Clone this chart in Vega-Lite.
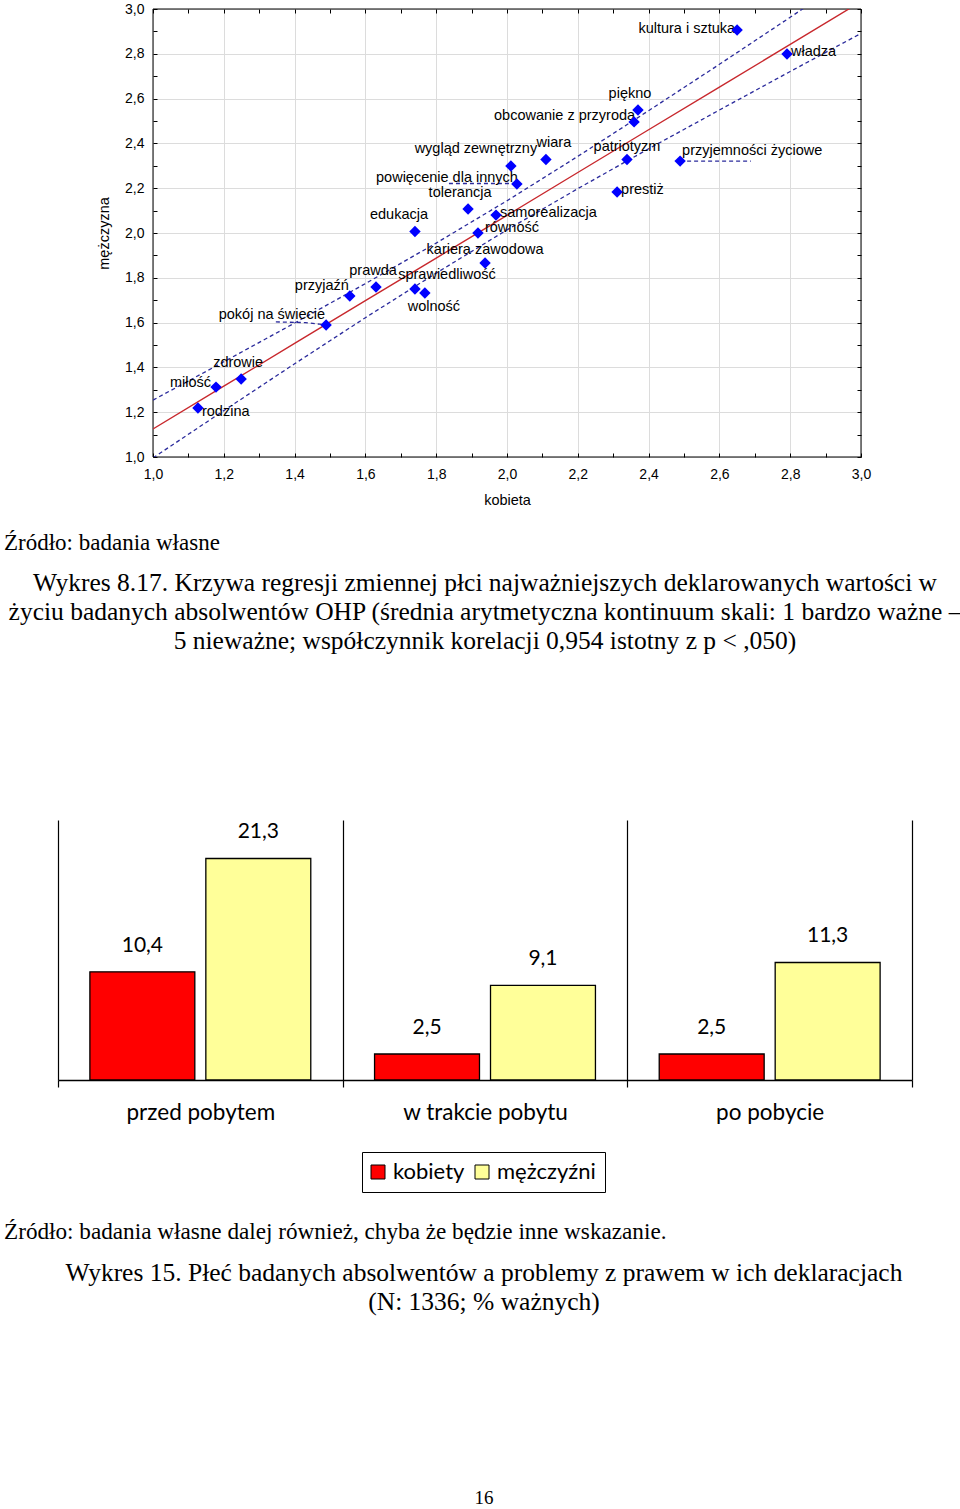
{
  "$schema": "https://vega.github.io/schema/vega-lite/v6.json",
  "padding": {"left": 0, "top": 1, "right": 0, "bottom": 0},
  "background": "white",
  "spacing": 0,
  "config": {
    "view": {"stroke": null},
    "locale": {"number": {"decimal": ",", "thousands": " ", "grouping": [3], "currency": ["", " zł"]}},
    "title": {"color": "#000", "fontWeight": "normal", "font": "Liberation Serif"},
    "text": {"font": "Liberation Sans", "fontSize": 14.5, "color": "#000", "baseline": "middle"}
  },
  "datasets": {
    "points": [
      {"name": "kultura i sztuka", "kobieta": 2.650, "mezczyzna": 2.906},
      {"name": "władza", "kobieta": 2.791, "mezczyzna": 2.799},
      {"name": "piękno", "kobieta": 2.370, "mezczyzna": 2.549},
      {"name": "obcowanie z przyrodą", "kobieta": 2.359, "mezczyzna": 2.496},
      {"name": "wiara", "kobieta": 2.110, "mezczyzna": 2.328},
      {"name": "wygląd zewnętrzny", "kobieta": 2.011, "mezczyzna": 2.299},
      {"name": "patriotyzm", "kobieta": 2.339, "mezczyzna": 2.328},
      {"name": "przyjemności życiowe", "kobieta": 2.489, "mezczyzna": 2.321},
      {"name": "powięcenie dla innych", "kobieta": 2.028, "mezczyzna": 2.219},
      {"name": "prestiż", "kobieta": 2.311, "mezczyzna": 2.183},
      {"name": "tolerancja", "kobieta": 1.890, "mezczyzna": 2.107},
      {"name": "samorealizacja", "kobieta": 1.969, "mezczyzna": 2.080},
      {"name": "edukacja", "kobieta": 1.740, "mezczyzna": 2.007},
      {"name": "równość", "kobieta": 1.918, "mezczyzna": 2.000},
      {"name": "kariera zawodowa", "kobieta": 1.938, "mezczyzna": 1.866},
      {"name": "prawda", "kobieta": 1.630, "mezczyzna": 1.759},
      {"name": "sprawiedliwość", "kobieta": 1.740, "mezczyzna": 1.750},
      {"name": "wolność", "kobieta": 1.768, "mezczyzna": 1.732},
      {"name": "przyjaźń", "kobieta": 1.556, "mezczyzna": 1.719},
      {"name": "pokój na świecie", "kobieta": 1.489, "mezczyzna": 1.589},
      {"name": "zdrowie", "kobieta": 1.249, "mezczyzna": 1.348},
      {"name": "miłość", "kobieta": 1.178, "mezczyzna": 1.312},
      {"name": "rodzina", "kobieta": 1.127, "mezczyzna": 1.219}
    ],
    "fit": [
      {"seria": "regresja", "kobieta": 1.0, "mezczyzna": 1.125},
      {"seria": "regresja", "kobieta": 1.2, "mezczyzna": 1.316},
      {"seria": "regresja", "kobieta": 1.4, "mezczyzna": 1.507},
      {"seria": "regresja", "kobieta": 1.6, "mezczyzna": 1.698},
      {"seria": "regresja", "kobieta": 1.8, "mezczyzna": 1.888},
      {"seria": "regresja", "kobieta": 2.0, "mezczyzna": 2.079},
      {"seria": "regresja", "kobieta": 2.2, "mezczyzna": 2.270},
      {"seria": "regresja", "kobieta": 2.4, "mezczyzna": 2.461},
      {"seria": "regresja", "kobieta": 2.6, "mezczyzna": 2.651},
      {"seria": "regresja", "kobieta": 2.8, "mezczyzna": 2.842},
      {"seria": "regresja", "kobieta": 3.0, "mezczyzna": 3.033},
      {"seria": "górna", "kobieta": 1.0, "mezczyzna": 1.254},
      {"seria": "górna", "kobieta": 1.2, "mezczyzna": 1.425},
      {"seria": "górna", "kobieta": 1.4, "mezczyzna": 1.598},
      {"seria": "górna", "kobieta": 1.6, "mezczyzna": 1.774},
      {"seria": "górna", "kobieta": 1.8, "mezczyzna": 1.955},
      {"seria": "górna", "kobieta": 2.0, "mezczyzna": 2.144},
      {"seria": "górna", "kobieta": 2.2, "mezczyzna": 2.342},
      {"seria": "górna", "kobieta": 2.4, "mezczyzna": 2.546},
      {"seria": "górna", "kobieta": 2.6, "mezczyzna": 2.753},
      {"seria": "górna", "kobieta": 2.8, "mezczyzna": 2.963},
      {"seria": "górna", "kobieta": 3.0, "mezczyzna": 3.175},
      {"seria": "dolna", "kobieta": 1.0, "mezczyzna": 0.996},
      {"seria": "dolna", "kobieta": 1.2, "mezczyzna": 1.207},
      {"seria": "dolna", "kobieta": 1.4, "mezczyzna": 1.416},
      {"seria": "dolna", "kobieta": 1.6, "mezczyzna": 1.622},
      {"seria": "dolna", "kobieta": 1.8, "mezczyzna": 1.821},
      {"seria": "dolna", "kobieta": 2.0, "mezczyzna": 2.014},
      {"seria": "dolna", "kobieta": 2.2, "mezczyzna": 2.198},
      {"seria": "dolna", "kobieta": 2.4, "mezczyzna": 2.376},
      {"seria": "dolna", "kobieta": 2.6, "mezczyzna": 2.549},
      {"seria": "dolna", "kobieta": 2.8, "mezczyzna": 2.721},
      {"seria": "dolna", "kobieta": 3.0, "mezczyzna": 2.891}
    ],
    "leaders": [
      {"name": "przyjemności życiowe", "kobieta": 2.489, "mezczyzna": 2.321},
      {"name": "przyjemności życiowe", "kobieta": 2.689, "mezczyzna": 2.321},
      {"name": "powięcenie dla innych", "kobieta": 1.836, "mezczyzna": 2.221},
      {"name": "powięcenie dla innych", "kobieta": 2.028, "mezczyzna": 2.221},
      {"name": "pokój na świecie", "kobieta": 1.347, "mezczyzna": 1.603},
      {"name": "pokój na świecie", "kobieta": 1.43, "mezczyzna": 1.600},
      {"name": "pokój na świecie", "kobieta": 1.47, "mezczyzna": 1.593},
      {"name": "pokój na świecie", "kobieta": 1.489, "mezczyzna": 1.589}
    ],
    "bars": [
      {"okres": "przed pobytem", "plec": "kobiety", "proc": 10.4},
      {"okres": "przed pobytem", "plec": "mężczyźni", "proc": 21.3},
      {"okres": "w trakcie pobytu", "plec": "kobiety", "proc": 2.5},
      {"okres": "w trakcie pobytu", "plec": "mężczyźni", "proc": 9.1},
      {"okres": "po pobycie", "plec": "kobiety", "proc": 2.5},
      {"okres": "po pobycie", "plec": "mężczyźni", "proc": 11.3}
    ]
  },
  "vconcat": [
    {
      "spacing": 0,
      "hconcat": [
        {"width": 96, "height": 1, "data": {"values": [{}]}, "mark": {"type": "text"}},
        {
          "width": 708,
          "height": 448,
          "resolve": {"axis": {"x": "independent", "y": "independent"}},
          "layer": [
            {
              "data": {"values": [{}]},
              "mark": {"type": "rect", "filled": false, "color": "#000", "strokeWidth": 1},
              "encoding": {
                "x": {"datum": 1, "type": "quantitative", "scale": {"domain": [1, 3], "nice": false, "zero": false},
                      "axis": {"orient": "top", "title": null, "values": [1, 1.1, 1.2, 1.3, 1.4, 1.5, 1.6, 1.7, 1.8, 1.9, 2, 2.1, 2.2, 2.3, 2.4, 2.5, 2.6, 2.7, 2.8, 2.9, 3],
                               "labels": false, "grid": false, "domain": false, "ticks": true, "tickSize": -4, "tickColor": "#000"}},
                "x2": {"datum": 3},
                "y": {"datum": 1, "type": "quantitative", "scale": {"domain": [1, 3], "nice": false, "zero": false},
                      "axis": {"orient": "right", "title": null, "values": [1, 1.1, 1.2, 1.3, 1.4, 1.5, 1.6, 1.7, 1.8, 1.9, 2, 2.1, 2.2, 2.3, 2.4, 2.5, 2.6, 2.7, 2.8, 2.9, 3],
                               "labels": false, "grid": false, "domain": false, "ticks": true, "tickSize": -4, "tickColor": "#000"}},
                "y2": {"datum": 3}
              }
            },
            {
              "data": {"name": "points"},
              "encoding": {
                "x": {
                  "field": "kobieta", "type": "quantitative", "title": "kobieta",
                  "scale": {"domain": [1, 3], "nice": false, "zero": false},
                  "axis": {
                    "values": [1, 1.1, 1.2, 1.3, 1.4, 1.5, 1.6, 1.7, 1.8, 1.9, 2, 2.1, 2.2, 2.3, 2.4, 2.5, 2.6, 2.7, 2.8, 2.9, 3],
                    "labelExpr": "round(datum.value*10)%2==1 ? '' : replace(format(datum.value,'.1f'),'.',',')",
                    "labelOverlap": false, "labelFlush": false,
                    "grid": true, "gridColor": "#dcdcdc",
                    "gridOpacity": {"condition": {"test": "round(datum.value*10)%2==1", "value": 0}, "value": 1},
                    "domain": false, "ticks": true, "tickSize": -4, "tickColor": "#000",
                    "labelFont": "Liberation Sans", "labelFontSize": 14, "labelColor": "#000", "labelPadding": 14,
                    "titleFont": "Liberation Sans", "titleFontSize": 14.5, "titleFontWeight": "normal", "titleColor": "#000", "titlePadding": 12
                  }
                },
                "y": {
                  "field": "mezczyzna", "type": "quantitative", "title": "mężczyzna",
                  "scale": {"domain": [1, 3], "nice": false, "zero": false},
                  "axis": {
                    "values": [1, 1.1, 1.2, 1.3, 1.4, 1.5, 1.6, 1.7, 1.8, 1.9, 2, 2.1, 2.2, 2.3, 2.4, 2.5, 2.6, 2.7, 2.8, 2.9, 3],
                    "labelExpr": "round(datum.value*10)%2==1 ? '' : replace(format(datum.value,'.1f'),'.',',')",
                    "labelOverlap": false, "labelFlush": false,
                    "grid": true, "gridColor": "#dcdcdc",
                    "gridOpacity": {"condition": {"test": "round(datum.value*10)%2==1", "value": 0}, "value": 1},
                    "domain": false, "ticks": true, "tickSize": -4, "tickColor": "#000",
                    "labelFont": "Liberation Sans", "labelFontSize": 14, "labelColor": "#000", "labelPadding": 13,
                    "titleFont": "Liberation Sans", "titleFontSize": 14.5, "titleFontWeight": "normal", "titleColor": "#000", "titlePadding": 13
                  }
                }
              },
              "layer": [
                {"data": {"name": "fit"}, "transform": [{"filter": "datum.seria == 'regresja'"}], "mark": {"type": "line", "color": "#c8282d", "strokeWidth": 1.4, "clip": true}},
                {"data": {"name": "fit"}, "transform": [{"filter": "datum.seria != 'regresja'"}], "mark": {"type": "line", "color": "#2b2b9c", "strokeWidth": 1.3, "strokeDash": [4, 3], "clip": true}, "encoding": {"detail": {"field": "seria"}}},
                {"data": {"name": "leaders"}, "mark": {"type": "line", "color": "#2b2b9c", "strokeWidth": 1.3, "strokeDash": [4, 3]}, "encoding": {"detail": {"field": "name"}}},
                {"transform": [{"filter": {"field": "name", "oneOf": ["władza", "prestiż", "samorealizacja"]}}], "mark": {"type": "text", "align": "left", "dx": 4, "dy": -2}, "encoding": {"text": {"field": "name"}}},
                {"transform": [{"filter": {"field": "name", "oneOf": ["równość"]}}], "mark": {"type": "text", "align": "left", "dx": 7, "dy": -5}, "encoding": {"text": {"field": "name"}}},
                {"transform": [{"filter": {"field": "name", "oneOf": ["rodzina"]}}], "mark": {"type": "text", "align": "left", "dx": 4, "dy": 4}, "encoding": {"text": {"field": "name"}}},
                {"transform": [{"filter": {"field": "name", "oneOf": ["przyjemności życiowe"]}}], "mark": {"type": "text", "align": "left", "dx": 2, "dy": -10}, "encoding": {"text": {"field": "name"}}},
                {"transform": [{"filter": {"field": "name", "oneOf": ["kultura i sztuka"]}}], "mark": {"type": "text", "align": "right", "dx": -2, "dy": -1}, "encoding": {"text": {"field": "name"}}},
                {"transform": [{"filter": {"field": "name", "oneOf": ["miłość"]}}], "mark": {"type": "text", "align": "right", "dx": -5, "dy": -4}, "encoding": {"text": {"field": "name"}}},
                {"transform": [{"filter": {"field": "name", "oneOf": ["obcowanie z przyrodą", "powięcenie dla innych"]}}], "mark": {"type": "text", "align": "right", "dx": 1, "dy": -6}, "encoding": {"text": {"field": "name"}}},
                {"transform": [{"filter": {"field": "name", "oneOf": ["pokój na świecie", "przyjaźń"]}}], "mark": {"type": "text", "align": "right", "dx": -1, "dy": -10}, "encoding": {"text": {"field": "name"}}},
                {"transform": [{"filter": {"field": "name", "oneOf": ["patriotyzm", "kariera zawodowa"]}}], "mark": {"type": "text", "align": "center", "dx": 0, "dy": -13}, "encoding": {"text": {"field": "name"}}},
                {"transform": [{"filter": {"field": "name", "oneOf": ["zdrowie", "prawda"]}}], "mark": {"type": "text", "align": "center", "dx": -3, "dy": -16}, "encoding": {"text": {"field": "name"}}},
                {"transform": [{"filter": {"field": "name", "oneOf": ["piękno", "tolerancja"]}}], "mark": {"type": "text", "align": "center", "dx": -8, "dy": -16}, "encoding": {"text": {"field": "name"}}},
                {"transform": [{"filter": {"field": "name", "oneOf": ["edukacja"]}}], "mark": {"type": "text", "align": "center", "dx": -16, "dy": -16}, "encoding": {"text": {"field": "name"}}},
                {"transform": [{"filter": {"field": "name", "oneOf": ["wiara"]}}], "mark": {"type": "text", "align": "center", "dx": 8, "dy": -17}, "encoding": {"text": {"field": "name"}}},
                {"transform": [{"filter": {"field": "name", "oneOf": ["wygląd zewnętrzny"]}}], "mark": {"type": "text", "align": "center", "dx": -35, "dy": -17}, "encoding": {"text": {"field": "name"}}},
                {"transform": [{"filter": {"field": "name", "oneOf": ["sprawiedliwość"]}}], "mark": {"type": "text", "align": "center", "dx": 32, "dy": -14}, "encoding": {"text": {"field": "name"}}},
                {"transform": [{"filter": {"field": "name", "oneOf": ["wolność"]}}], "mark": {"type": "text", "align": "center", "dx": 9, "dy": 14}, "encoding": {"text": {"field": "name"}}},
                {"mark": {"type": "point", "shape": "diamond", "filled": true, "color": "#0000ff", "size": 130, "opacity": 1}}
              ]
            }
          ]
        }
      ]
    },
    {
      "width": 960, "height": 1, "data": {"values": [{}]}, "mark": {"type": "text"},
      "title": {"text": "Źródło: badania własne", "orient": "bottom", "anchor": "start", "frame": "group", "dx": 4, "offset": 10, "fontSize": 23}
    },
    {
      "width": 960, "height": 1, "data": {"values": [{}]}, "mark": {"type": "text"},
      "title": {
        "text": [
          "Wykres 8.17. Krzywa regresji zmiennej płci najważniejszych deklarowanych wartości w",
          "życiu badanych absolwentów OHP (średnia arytmetyczna kontinuum skali: 1 bardzo ważne –",
          "5 nieważne; współczynnik korelacji 0,954 istotny z p < ,050)"
        ],
        "orient": "bottom", "anchor": "middle", "frame": "group", "dx": 5, "offset": 1, "fontSize": 25.5, "lineHeight": 29
      }
    },
    {"width": 1, "height": 157, "data": {"values": [{}]}, "mark": {"type": "text"}},
    {
      "spacing": 0,
      "hconcat": [
        {"width": 57, "height": 1, "data": {"values": [{}]}, "mark": {"type": "text"}},
        {
          "width": 854,
          "height": 260,
          "data": {"name": "bars"},
          "encoding": {
            "x": {
              "field": "okres", "type": "nominal", "sort": ["przed pobytem", "w trakcie pobytu", "po pobycie"], "title": null,
              "scale": {"paddingInner": 0, "paddingOuter": 0},
              "axis": {
                "tickBand": "extent", "grid": true, "gridColor": "#000", "gridWidth": 1.2,
                "domainColor": "#000", "domainWidth": 1.5, "tickColor": "#000", "tickWidth": 1.2, "tickSize": 7,
                "labelAngle": 0, "labelFont": "Lato", "labelFontSize": 22.5, "labelColor": "#000", "labelPadding": 14
              }
            },
            "xOffset": {"field": "plec", "type": "nominal", "sort": ["kobiety", "mężczyźni"], "scale": {"paddingInner": 0.095, "paddingOuter": 0.275}},
            "y": {"field": "proc", "type": "quantitative", "scale": {"domain": [0, 25], "nice": false, "zero": true}, "axis": null}
          },
          "layer": [
            {
              "mark": {"type": "bar", "stroke": "#000", "strokeWidth": 1.3},
              "encoding": {
                "color": {
                  "field": "plec", "type": "nominal",
                  "scale": {"domain": ["kobiety", "mężczyźni"], "range": ["#ff0000", "#ffff99"]},
                  "legend": {
                    "title": null, "orient": "none", "legendX": 362, "legendY": 1143, "direction": "horizontal",
                    "symbolType": "square", "symbolSize": 196, "symbolStrokeColor": "#000", "symbolStrokeWidth": 1, "symbolOpacity": 1,
                    "symbolOffset": -4,
                    "labelFont": "Lato", "labelFontSize": 22, "labelColor": "#000", "labelOffset": 4,
                    "strokeColor": "#000", "fillColor": "#fff", "padding": 9, "columnPadding": 8
                  }
                }
              }
            },
            {
              "mark": {"type": "text", "baseline": "middle", "dy": -26, "font": "Lato", "fontSize": 21, "color": "#000"},
              "encoding": {"text": {"field": "proc", "type": "quantitative", "format": ".1f"}}
            }
          ]
        }
      ]
    },
    {
      "width": 960, "height": 1, "data": {"values": [{}]}, "mark": {"type": "text"},
      "title": {"text": "Źródło: badania własne dalej również, chyba że będzie inne wskazanie.", "orient": "bottom", "anchor": "start", "frame": "group", "dx": 4, "offset": 82, "fontSize": 23.2}
    },
    {
      "width": 960, "height": 1, "data": {"values": [{}]}, "mark": {"type": "text"},
      "title": {
        "text": ["Wykres 15. Płeć badanych absolwentów a problemy z prawem w ich deklaracjach", "(N: 1336; % ważnych)"],
        "orient": "bottom", "anchor": "middle", "frame": "group", "dx": 4, "offset": 2, "fontSize": 25.5, "lineHeight": 29
      }
    },
    {
      "width": 960, "height": 1, "data": {"values": [{}]}, "mark": {"type": "text"},
      "title": {"text": "16", "orient": "bottom", "anchor": "middle", "frame": "group", "dx": 4, "offset": 158, "fontSize": 19}
    }
  ]
}
